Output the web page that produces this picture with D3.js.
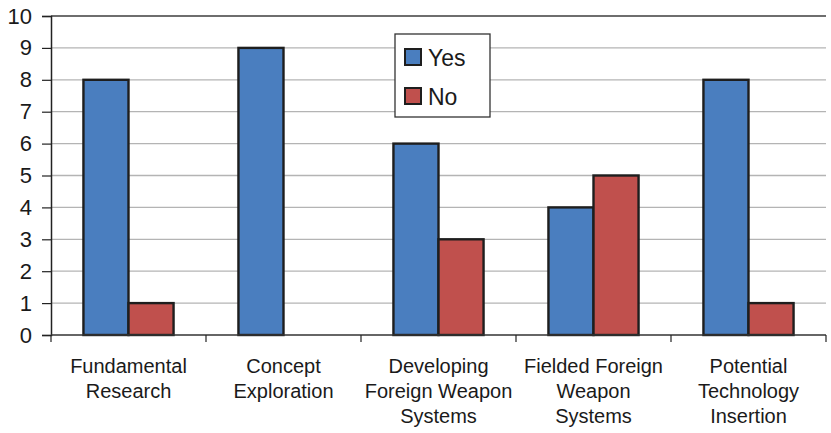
<!DOCTYPE html>
<html>
<head>
<meta charset="utf-8">
<script src="https://cdn.jsdelivr.net/npm/d3@7"></script>
<style>
  html, body { margin: 0; padding: 0; background: #fff; overflow: hidden; }
  svg { display: block; font-family: "Liberation Sans", Arial, sans-serif; }
</style>
</head>
<body>
<div id="chart"></div>
<script>
const categories = [
  ["Fundamental", "Research"],
  ["Concept", "Exploration"],
  ["Developing", "Foreign Weapon", "Systems"],
  ["Fielded Foreign", "Weapon", "Systems"],
  ["Potential", "Technology", "Insertion"]
];
const seriesNames = ["Yes", "No"];
const yesValues = [8, 9, 6, 4, 8];
const noValues = [1, 0, 3, 5, 1];
const yTicks = [0, 1, 2, 3, 4, 5, 6, 7, 8, 9, 10];
const colors = { Yes: "#4a7ebf", No: "#c0504d" };

const width = 831, height = 433;
const margin = { top: 16, right: 5, bottom: 98, left: 51 };
const innerWidth = width - margin.left - margin.right;
const innerHeight = height - margin.top - margin.bottom;

const svg = d3.select("#chart").append("svg")
  .attr("width", width)
  .attr("height", height);

const g = svg.append("g")
  .attr("transform", `translate(${margin.left},${margin.top})`);

const catKeys = categories.map(c => c.join(" "));
const data = catKeys.map((k, i) => ({ key: k, lines: categories[i], Yes: yesValues[i], No: noValues[i] }));

const x0 = d3.scaleBand().domain(catKeys).range([0, innerWidth]).padding(0);
const x1 = d3.scaleBand().domain(seriesNames).range([0, x0.bandwidth()])
  .paddingInner(0).paddingOuter(0.72);
const y = d3.scaleLinear().domain([0, 10]).range([innerHeight, 0]);

// gridlines
g.append("g").selectAll("line").data(yTicks.filter(t => t > 0)).enter().append("line")
  .attr("x1", 0).attr("x2", innerWidth)
  .attr("y1", d => y(d)).attr("y2", d => y(d))
  .attr("stroke", d => d === 10 ? "#6e6e6e" : "#b4b4b4")
  .attr("stroke-width", d => d === 10 ? 2 : 1.3);

// bars
const groups = g.selectAll(".cat").data(data).enter().append("g")
  .attr("transform", d => `translate(${x0(d.key)},0)`);

groups.selectAll("rect")
  .data(d => seriesNames.map(s => ({ s, v: d[s] })).filter(e => e.v > 0))
  .enter().append("rect")
  .attr("x", d => x1(d.s))
  .attr("y", d => y(d.v))
  .attr("width", x1.bandwidth())
  .attr("height", d => innerHeight - y(d.v))
  .attr("fill", d => colors[d.s])
  .attr("stroke", "#1e1e1e")
  .attr("stroke-width", 2.4);

// y axis
const yAxis = g.append("g")
  .call(d3.axisLeft(y).tickValues(yTicks).tickSize(9).tickPadding(10).tickFormat(d3.format("d")));
yAxis.select(".domain").attr("stroke", "#222").attr("stroke-width", 1.5);
yAxis.selectAll(".tick line").attr("stroke", "#222").attr("stroke-width", 1.2);
yAxis.selectAll(".tick text").attr("font-size", 22).attr("fill", "#1a1a1a")
  .attr("font-family", "Liberation Sans, Arial, sans-serif");

// x axis
const xAxisG = g.append("g").attr("transform", `translate(0,${innerHeight})`);
xAxisG.append("line")
  .attr("x1", 0).attr("x2", innerWidth)
  .attr("stroke", "#333").attr("stroke-width", 1.5);
xAxisG.selectAll(".bt").data(catKeys.concat(["end"])).enter().append("line")
  .attr("x1", (d, i) => i < catKeys.length ? x0(d) : innerWidth)
  .attr("x2", (d, i) => i < catKeys.length ? x0(d) : innerWidth)
  .attr("y1", 0).attr("y2", 7)
  .attr("stroke", "#222").attr("stroke-width", 1.2);

// category labels, one text per line
const labelLines = [];
data.forEach(d => d.lines.forEach((t, i) => labelLines.push({ key: d.key, t, i })));
xAxisG.selectAll(".lab").data(labelLines).enter().append("text")
  .attr("text-anchor", "middle")
  .attr("font-size", 20)
  .attr("fill", "#1a1a1a")
  .attr("x", d => x0(d.key) + x0.bandwidth() / 2)
  .attr("y", d => 38 + d.i * 25)
  .text(d => d.t);

// legend
const legend = svg.append("g").attr("transform", "translate(395,34)");
legend.append("rect")
  .attr("width", 95).attr("height", 83)
  .attr("fill", "#fff").attr("stroke", "#333").attr("stroke-width", 1.3);
const items = legend.selectAll(".li").data(seriesNames).enter().append("g")
  .attr("transform", (d, i) => `translate(10,${15 + i * 39})`);
items.append("rect")
  .attr("width", 16).attr("height", 16)
  .attr("fill", d => colors[d])
  .attr("stroke", "#1e1e1e").attr("stroke-width", 2);
items.append("text")
  .attr("x", 23).attr("y", 17)
  .attr("font-size", 23)
  .attr("fill", "#1a1a1a")
  .text(d => d);
</script>
</body>
</html>
